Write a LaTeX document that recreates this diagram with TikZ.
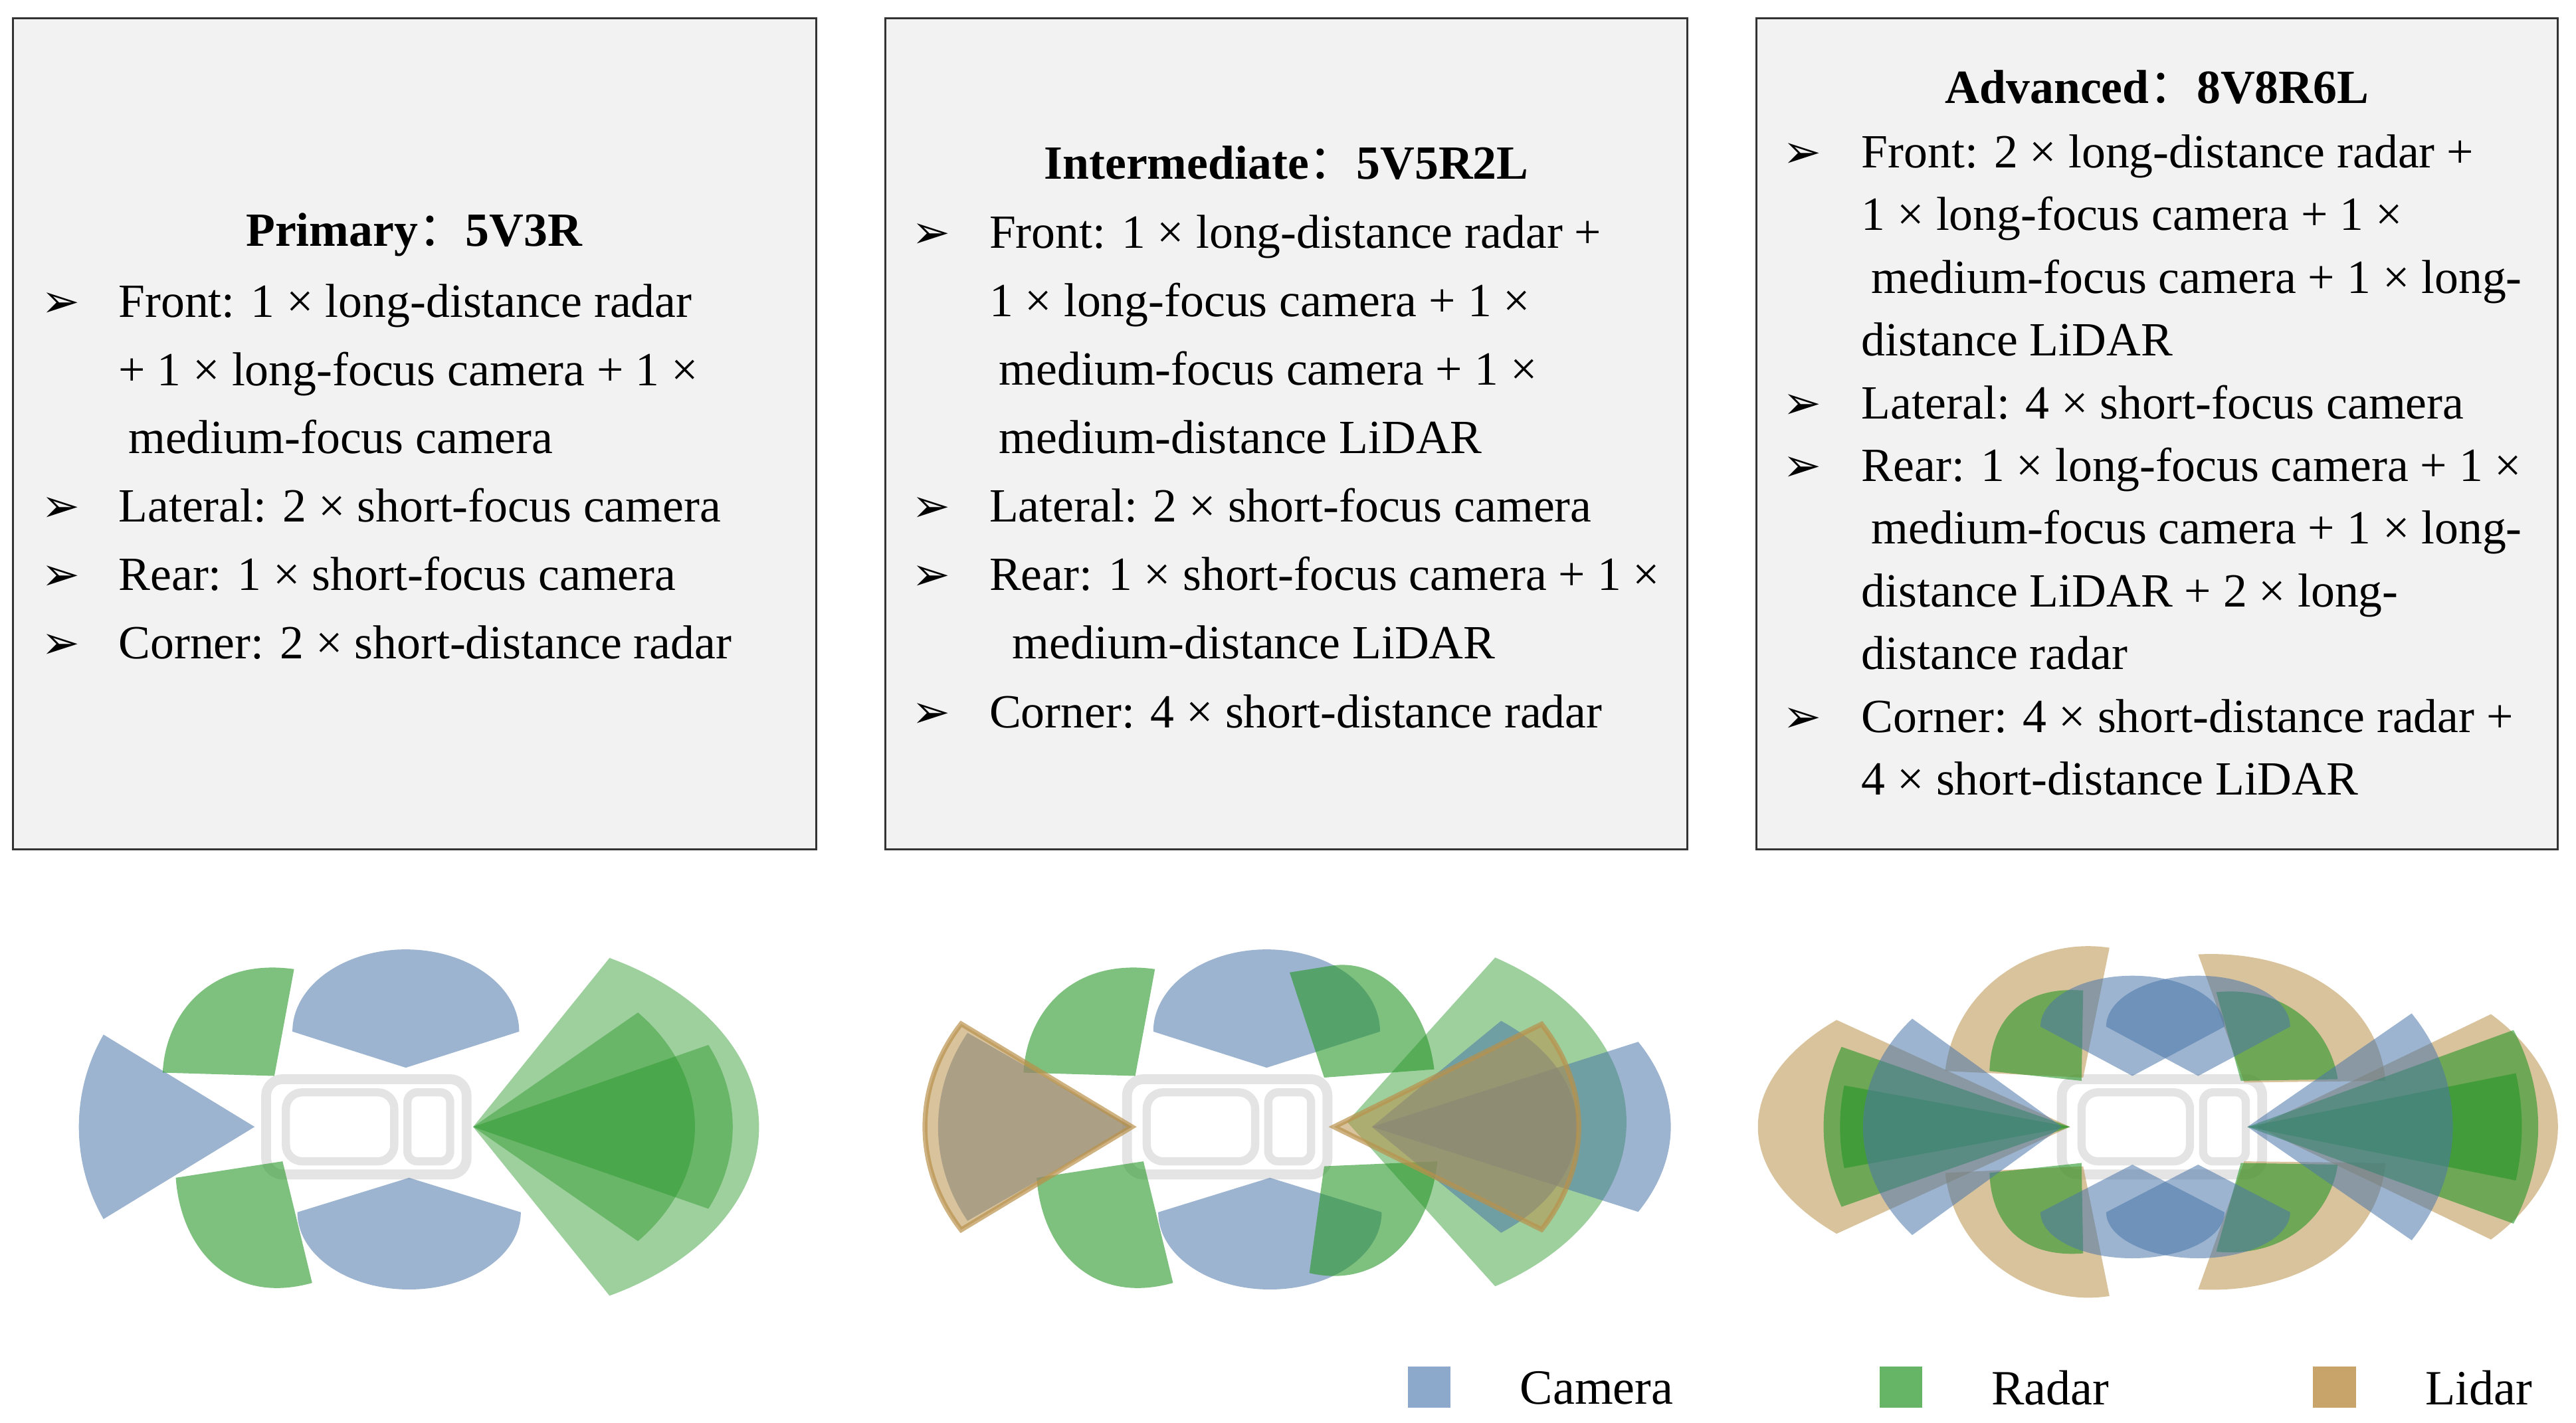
\documentclass[tikz,border=0pt]{standalone}
\usepackage{fontspec}
\setmainfont{Liberation Serif}
\newfontfamily\cjk{Noto Sans CJK SC}
\newfontfamily\djv{DejaVu Sans}
\usepackage{array}
\definecolor{camc}{RGB}{74,118,168}
\definecolor{radc}{RGB}{40,150,40}
\definecolor{lidc}{RGB}{185,145,75}
\definecolor{camL}{RGB}{140,168,202}
\definecolor{radL}{RGB}{102,180,102}
\definecolor{lidL}{RGB}{200,164,106}
\newcommand\bul{{\djv\fontsize{28}{28}\selectfont ➢}}
\newcommand\esec[6]{\fill[#1] (#2) -- ++(#3:#5 and #6) arc[start angle=#3,end angle=#4,x radius=#5,y radius=#6] -- cycle;}
\begin{document}
\begin{tikzpicture}[x=1pt,y=-1pt,
  box/.style={draw=black!80,line width=1.2pt,fill=black!5},
  cam/.style={fill=camc,fill opacity=.55},
  rad/.style={fill=radc,fill opacity=.6},
  radl/.style={fill=radc,fill opacity=.45},
  lid/.style={fill=lidc,fill opacity=.55},
  lidb/.style={fill=lidc,fill opacity=.55,draw=lidc,draw opacity=.7,line width=3pt},
  car/.style={draw=black!35,line width=6pt,draw opacity=.3,rounded corners=10pt},
  ttl/.style={anchor=base,inner sep=0,font=\fontsize{29}{35}\selectfont\bfseries},
  txt/.style={anchor=base west,inner sep=0},
  leg/.style={anchor=west,inner sep=0,font=\fontsize{30}{36}\selectfont}]
\useasboundingbox (0,0) rectangle (1568,866);
% boxes
\draw[box] (8,11) rectangle (497,517);
\draw[box] (539,11) rectangle (1027,517);
\draw[box] (1069,11) rectangle (1557,517);
\node[ttl] (t1) at (252,150) {Primary{\normalfont\cjk ：}5V3R};
\node[ttl] (t2) at (783,109) {Intermediate{\normalfont\cjk ：}5V5R2L};
\node[ttl] (t3) at (1313,63) {Advanced{\normalfont\cjk ：}8V8R6L};
\node[txt] (x1) at (25,193) {\fontsize{29}{41.6}\selectfont\begin{tabular}[t]{@{}p{47pt}@{}l@{}}
\bul & Front: 1 × long-distance radar\\
 & + 1 × long-focus camera + 1 ×\\
 & \hspace{6pt}medium-focus camera\\
\bul & Lateral: 2 × short-focus camera\\
\bul & Rear: 1 × short-focus camera\\
\bul & Corner: 2 × short-distance radar
\end{tabular}};
\node[txt] (x2) at (555,151) {\fontsize{29}{41.7}\selectfont\begin{tabular}[t]{@{}p{47pt}@{}l@{}}
\bul & Front: 1 × long-distance radar +\\
 & 1 × long-focus camera + 1 ×\\
 & \hspace{6pt}medium-focus camera + 1 ×\\
 & \hspace{6pt}medium-distance LiDAR\\
\bul & Lateral: 2 × short-focus camera\\
\bul & Rear: 1 × short-focus camera + 1 ×\\
 & \hspace{14pt}medium-distance LiDAR\\
\bul & Corner: 4 × short-distance radar
\end{tabular}};
\node[txt] (x3) at (1085,102) {\fontsize{29}{38.2}\selectfont\begin{tabular}[t]{@{}p{48pt}@{}l@{}}
\bul & Front: 2 × long-distance radar +\\
 & 1 × long-focus camera + 1 ×\\
 & \hspace{6pt}medium-focus camera + 1 × long-\\
 & distance LiDAR\\
\bul & Lateral: 4 × short-focus camera\\
\bul & Rear: 1 × long-focus camera + 1 ×\\
 & \hspace{6pt}medium-focus camera + 1 × long-\\
 & distance LiDAR + 2 × long-\\
 & distance radar\\
\bul & Corner: 4 × short-distance radar +\\
 & 4 × short-distance LiDAR
\end{tabular}};
% cars
\foreach \cx in {222,746,1315}{
  \draw[car] (\cx-60,657) rectangle (\cx+62,715);
  \draw[car,line width=5pt] (\cx-48,665) rectangle (\cx+18,707);
  \draw[car,line width=5pt,rounded corners=6pt] (\cx+26,665) rectangle (\cx+52,707);
}
% ===== car 1
\esec{cam}{155,686}{149.3}{210.7}{107}{110}
\fill[rad] (99,653) -- (167,655) -- (179,590) .. controls (130,583) and (101,615) .. (99,653) -- cycle;
\fill[rad] (107,717) -- (172,707) -- (190,781) .. controls (140,795) and (110,760) .. (107,717) -- cycle;
\fill[cam] (178,628) arc[start angle=180,end angle=360,x radius=69,y radius=50] -- (247,650) -- cycle;
\fill[cam] (181,738) arc[start angle=180,end angle=0,x radius=68,y radius=47] -- (249,717) -- cycle;
\esec{radl}{288,686}{-61.5}{61.5}{174}{117}
\esec{radl}{288,686}{-42}{42}{135}{104}
\esec{radl}{288,686}{-25}{25}{158}{118}
% ===== car 2
\begin{scope}[xshift=524pt]
\fill[rad] (99,653) -- (167,655) -- (179,590) .. controls (130,583) and (101,615) .. (99,653) -- cycle;
\fill[rad] (107,717) -- (172,707) -- (190,781) .. controls (140,795) and (110,760) .. (107,717) -- cycle;
\fill[cam] (178,628) arc[start angle=180,end angle=360,x radius=69,y radius=50] -- (247,650) -- cycle;
\fill[cam] (181,738) arc[start angle=180,end angle=0,x radius=68,y radius=47] -- (249,717) -- cycle;
\end{scope}
\esec{cam}{689,686}{148}{212}{118}{108}
\esec{lidb}{689,686}{145.6}{214.4}{126}{111}
\fill[rad] (785,592) -- (806,656) -- (873,651) .. controls (868,610) and (840,583) .. (810,588) -- cycle;
\fill[rad] (797,775) -- (806,710) -- (875,707) .. controls (870,752) and (840,785) .. (797,775) -- cycle;
\esec{radl}{820,683}{-58}{58}{170}{118}
\esec{cam}{835,686}{-51}{51}{125}{83}
\esec{cam}{835,686}{-27}{27}{182}{114}
\esec{lidb}{812,686}{-32}{32}{149}{118}
% ===== car 3
\fill[lid] (1284,577) .. controls (1240,570) and (1190,600) .. (1184,652) -- (1268,656) -- cycle;
\fill[lid] (1284,789) .. controls (1240,796) and (1190,766) .. (1184,714) -- (1268,710) -- cycle;
\fill[lid] (1338,581) -- (1366,659) -- (1452,658) .. controls (1448,610) and (1400,578) .. (1338,581) -- cycle;
\fill[lid] (1338,785) -- (1366,707) -- (1452,708) .. controls (1448,756) and (1400,788) .. (1338,785) -- cycle;
\fill[rad] (1268,603) .. controls (1232,600) and (1212,620) .. (1211,652) -- (1267,658) -- cycle;
\fill[rad] (1268,763) .. controls (1232,766) and (1212,746) .. (1211,714) -- (1267,708) -- cycle;
\fill[rad] (1349,604) -- (1364,658) -- (1423,657) .. controls (1418,625) and (1390,600) .. (1349,604) -- cycle;
\fill[rad] (1349,762) -- (1364,708) -- (1423,709) .. controls (1418,741) and (1390,766) .. (1349,762) -- cycle;
\fill[cam] (1242,625) arc[start angle=180,end angle=360,x radius=56,y radius=31] -- (1298,655) -- cycle;
\fill[cam] (1282,625) arc[start angle=180,end angle=360,x radius=56,y radius=31] -- (1338,655) -- cycle;
\fill[cam] (1242,738) arc[start angle=180,end angle=0,x radius=56,y radius=28] -- (1298,709) -- cycle;
\fill[cam] (1282,738) arc[start angle=180,end angle=0,x radius=56,y radius=28] -- (1338,709) -- cycle;
\esec{lid}{1260,686}{138.4}{221.6}{190}{98}
\esec{rad}{1260,686}{158}{202}{150}{130}
\esec{rad}{1260,686}{169}{191}{140}{132}
\esec{cam}{1255,686}{138.8}{221.2}{121}{100}
\esec{lid}{1374,686}{-39}{39}{183}{109}
\esec{rad}{1368,686}{-23.8}{23.8}{177}{146}
\esec{rad}{1368,686}{-12}{12}{167}{157}
\esec{cam}{1368,686}{-36.9}{36.9}{125}{115}
% legend
\fill[camL] (857,832) rectangle (883,857);
\fill[radL] (1144,832) rectangle (1170,857);
\fill[lidL] (1408,832) rectangle (1434,857);
\node[leg] (l1) at (925,845) {Camera};
\node[leg] (l2) at (1212,845) {Radar};
\node[leg] (l3) at (1476,845) {Lidar};
\end{tikzpicture}
\end{document}
